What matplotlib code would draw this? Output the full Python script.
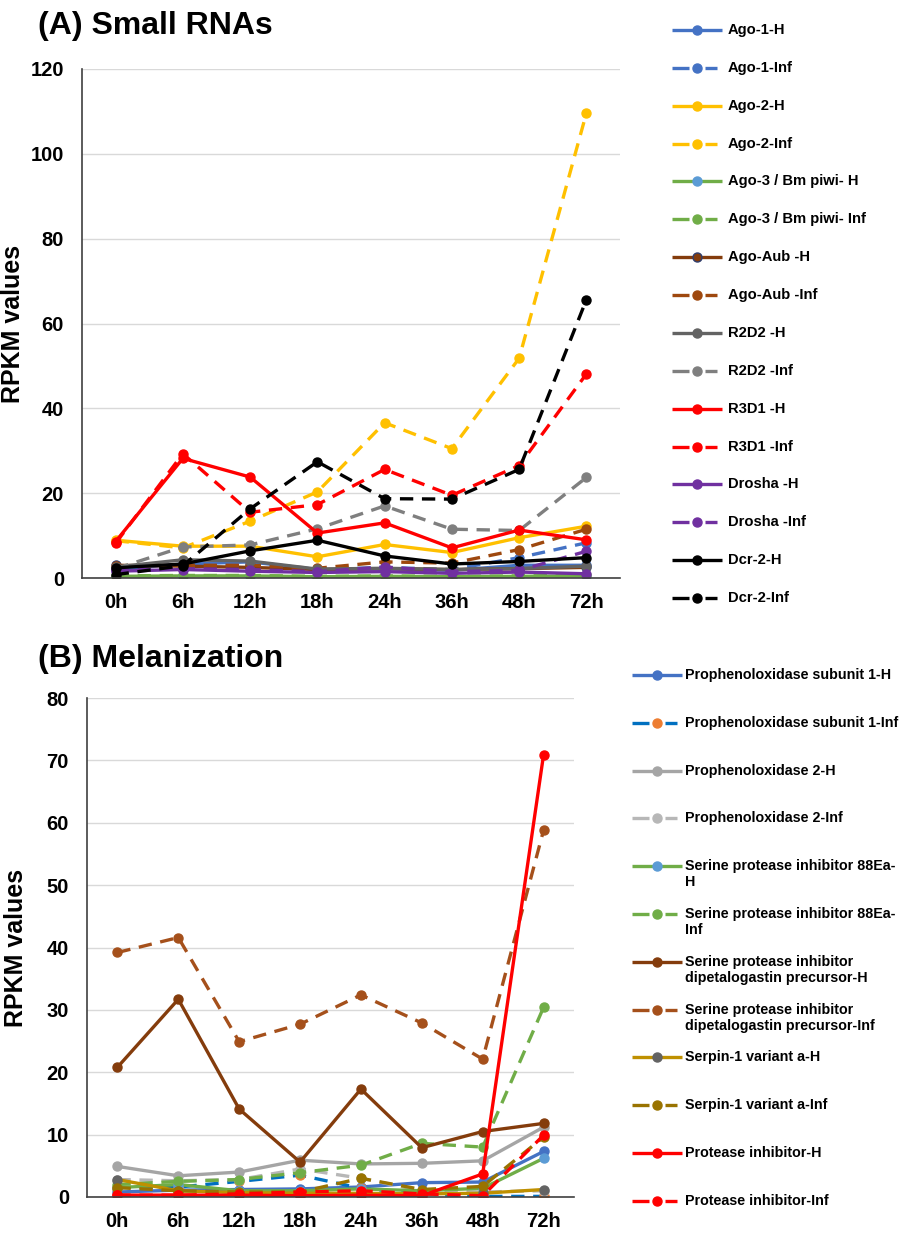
import matplotlib
matplotlib.use("Agg")
import matplotlib.pyplot as plt
from matplotlib.lines import Line2D

plt.rcParams['font.family'] = ['Liberation Sans', 'DejaVu Sans']
plt.rcParams['font.weight'] = 'bold'

timepoints = ["0h", "6h", "12h", "18h", "24h", "36h", "48h", "72h"]

# ---------------- Panel A: Small RNAs ----------------
labels_a = ["Ago-1-H", "Ago-1-Inf", "Ago-2-H", "Ago-2-Inf",
            "Ago-3 / Bm piwi- H", "Ago-3 / Bm piwi- Inf", "Ago-Aub -H", "Ago-Aub -Inf",
            "R2D2 -H", "R2D2 -Inf", "R3D1 -H", "R3D1 -Inf",
            "Drosha -H", "Drosha -Inf", "Dcr-2-H", "Dcr-2-Inf"]
ago1_h = [2.0, 3.3, 3.8, 2.0, 2.2, 1.8, 3.0, 3.0]
ago1_inf = [2.3, 3.0, 3.0, 2.0, 2.5, 2.0, 4.8, 8.3]
ago2_h = [8.9, 7.5, 7.5, 5.0, 7.9, 6.0, 9.5, 12.2]
ago2_inf = [8.8, 7.1, 13.4, 20.3, 36.6, 30.5, 51.8, 109.6]
ago3_h = [0.4, 0.5, 0.5, 0.3, 0.4, 0.3, 0.4, 0.5]
ago3_inf = [0.5, 0.6, 0.6, 0.4, 0.5, 0.4, 0.5, 0.6]
aub_h = [3.0, 2.8, 2.5, 2.0, 2.2, 2.0, 2.2, 2.5]
aub_inf = [2.8, 3.0, 3.0, 2.3, 3.8, 3.5, 6.7, 11.5]
r2d2_h = [2.6, 4.3, 4.0, 2.1, 2.3, 2.0, 2.2, 2.8]
r2d2_inf = [2.2, 7.3, 7.8, 11.6, 17.0, 11.5, 11.2, 23.7]
r3d1_h = [8.6, 28.2, 23.8, 10.6, 13.0, 7.1, 11.3, 9.0]
r3d1_inf = [8.2, 29.3, 15.5, 17.3, 25.6, 19.5, 26.5, 48.1]
drosha_h = [1.6, 2.0, 1.6, 1.3, 1.5, 1.1, 1.4, 1.0]
drosha_inf = [1.8, 2.2, 2.0, 1.5, 2.6, 1.5, 1.8, 6.3]
dcr2_h = [2.4, 3.3, 6.4, 8.9, 5.2, 3.3, 3.9, 4.8]
dcr2_inf = [0.8, 2.9, 16.3, 27.4, 18.7, 18.6, 25.6, 65.6]
values_a = [ago1_h, ago1_inf, ago2_h, ago2_inf, ago3_h, ago3_inf, aub_h, aub_inf,
            r2d2_h, r2d2_inf, r3d1_h, r3d1_inf, drosha_h, drosha_inf, dcr2_h, dcr2_inf]
# (line colour, marker face colour, marker edge colour, dashed)
styles_a = [("#4472C4", "#4472C4", "#4472C4", False), ("#4472C4", "#4472C4", "#4472C4", True),
            ("#FFC000", "#FFC000", "#FFC000", False), ("#FFC000", "#FFC000", "#FFC000", True),
            ("#70AD47", "#5B9BD5", "#5B9BD5", False), ("#70AD47", "#70AD47", "#70AD47", True),
            ("#843C0C", "#843C0C", "#2F3E6E", False), ("#9E480E", "#9E480E", "#9E480E", True),
            ("#636363", "#636363", "#636363", False), ("#7F7F7F", "#7F7F7F", "#7F7F7F", True),
            ("#FF0000", "#FF0000", "#FF0000", False), ("#FF0000", "#FF0000", "#FF0000", True),
            ("#7030A0", "#7030A0", "#7030A0", False), ("#7030A0", "#7030A0", "#7030A0", True),
            ("#000000", "#000000", "#000000", False), ("#000000", "#000000", "#000000", True)]
yticks_a = [0, 20, 40, 60, 80, 100, 120]

# ---------------- Panel B: Melanization ----------------
labels_b = ["Prophenoloxidase subunit 1-H", "Prophenoloxidase subunit 1-Inf",
            "Prophenoloxidase 2-H", "Prophenoloxidase 2-Inf",
            "Serine protease inhibitor 88Ea-\nH", "Serine protease inhibitor 88Ea-\nInf",
            "Serine protease inhibitor\ndipetalogastin precursor-H",
            "Serine protease inhibitor\ndipetalogastin precursor-Inf",
            "Serpin-1 variant a-H", "Serpin-1 variant a-Inf",
            "Protease inhibitor-H", "Protease inhibitor-Inf"]
ppo1_h = [0.8, 1.1, 1.2, 1.3, 1.6, 2.3, 2.4, 7.3]
ppo1_inf = [1.5, 1.6, 2.5, 3.5, 1.4, 0.5, 0.1, 0.1]
ppo2_h = [4.9, 3.4, 4.0, 5.9, 5.3, 5.4, 5.8, 11.2]
ppo2_inf = [2.8, 2.6, 2.8, 4.5, 3.0, 1.0, 0.8, 1.0]
ser88_h = [1.5, 2.0, 1.0, 1.0, 1.3, 1.0, 1.4, 6.2]
ser88_inf = [2.0, 2.5, 2.8, 3.9, 5.1, 8.6, 8.0, 30.4]
serdip_h = [20.8, 31.7, 14.1, 5.6, 17.3, 7.9, 10.5, 11.8]
serdip_inf = [39.2, 41.6, 24.9, 27.7, 32.4, 27.9, 22.1, 58.8]
serpin_h = [2.8, 1.0, 0.7, 0.6, 0.6, 0.5, 0.6, 1.2]
serpin_inf = [1.5, 1.0, 0.8, 0.8, 3.0, 1.2, 1.7, 9.6]
pi_h = [0.3, 0.3, 0.3, 0.2, 0.3, 0.2, 3.7, 70.9]
pi_inf = [0.3, 0.3, 0.5, 0.8, 1.0, 0.5, 0.2, 9.9]
values_b = [ppo1_h, ppo1_inf, ppo2_h, ppo2_inf, ser88_h, ser88_inf,
            serdip_h, serdip_inf, serpin_h, serpin_inf, pi_h, pi_inf]
styles_b = [("#4472C4", "#4472C4", "#4472C4", False), ("#0070C0", "#ED7D31", "#ED7D31", True),
            ("#A5A5A5", "#A5A5A5", "#A5A5A5", False), ("#B7B7B7", "#B7B7B7", "#B7B7B7", True),
            ("#70AD47", "#5B9BD5", "#5B9BD5", False), ("#70AD47", "#70AD47", "#70AD47", True),
            ("#843C0C", "#843C0C", "#843C0C", False), ("#A5501B", "#A5501B", "#A5501B", True),
            ("#BF9000", "#636363", "#636363", False), ("#997300", "#997300", "#997300", True),
            ("#FF0000", "#FF0000", "#FF0000", False), ("#FF0000", "#FF0000", "#FF0000", True)]
yticks_b = [0, 10, 20, 30, 40, 50, 60, 70, 80]

W, H = 906, 1235
fig = plt.figure(figsize=(W / 100, H / 100), dpi=100)

def fx(px):
    return px / W

def fy(py):
    return 1 - py / H

DASH = (0, (4, 2.6))
LW = 2.4
MS = 6.5

def draw_legend(styles, labels, x0, y0, step, fs, text_off):
    # Excel-like legend: evenly spaced entries, handle aligned with first text line
    for i, ((lc, mfc, mec, dashed), lab) in enumerate(zip(styles, labels)):
        y = y0 + step * i
        if dashed:
            segs = [(0, 17), (33, 45)]
        else:
            segs = [(0, 50)]
        for a, b in segs:
            fig.add_artist(Line2D([fx(x0 + a), fx(x0 + b)], [fy(y), fy(y)],
                                  transform=fig.transFigure, color=lc, lw=LW,
                                  solid_capstyle='butt'))
        fig.add_artist(Line2D([fx(x0 + 25)], [fy(y)], transform=fig.transFigure, ls='none',
                              marker='o', ms=MS, mfc=mfc, mec=mec, mew=1.0))
        for j, line in enumerate(lab.split("\n")):
            fig.text(fx(x0 + text_off), fy(y + 16 * j), line, fontsize=fs, fontweight='bold',
                     ha='left', va='center')

def draw_panel(box, title, title_y, values, labels, styles, yticks, ylabel_x):
    left, top, right, bottom = box
    ax = fig.add_axes([fx(left), fy(bottom), fx(right) - fx(left), fy(top) - fy(bottom)])
    x = list(range(len(timepoints)))
    for vals, lab, (lc, mfc, mec, dashed) in zip(values, labels, styles):
        ax.plot(x, vals, color=lc, lw=LW, ls=DASH if dashed else '-', marker='o', ms=MS,
                mfc=mfc, mec=mec, mew=1.0, label=lab, solid_capstyle='round',
                dash_capstyle='butt')
    ax.set_xlim(-0.5, len(timepoints) - 0.5)
    ax.set_ylim(yticks[0], yticks[-1])
    ax.set_yticks(yticks)
    ax.set_xticks(x)
    ax.set_xticklabels(timepoints)
    ax.tick_params(axis='y', length=0, labelsize=14.5, pad=13)
    ax.tick_params(axis='x', length=0, labelsize=14.5, pad=11)
    for t in ax.get_xticklabels() + ax.get_yticklabels():
        t.set_fontweight('bold')
    ax.grid(axis='y', color='#D9D9D9', lw=1.0)
    ax.set_axisbelow(True)
    for s in ['top', 'right']:
        ax.spines[s].set_visible(False)
    for s in ['left', 'bottom']:
        ax.spines[s].set_color('#404040')
        ax.spines[s].set_linewidth(1.2)
    ax.set_ylabel("RPKM values", fontsize=18, fontweight='bold')
    ax.yaxis.set_label_coords((ylabel_x - left) / (right - left), 0.5)
    fig.text(fx(38), fy(title_y), title, fontsize=23, fontweight='bold', ha='left', va='center')
    return ax

draw_panel((82, 69, 620, 578), "(A) Small RNAs", 26, values_a, labels_a, styles_a, yticks_a, 25)
draw_panel((87, 698, 574, 1197), "(B) Melanization", 659, values_b, labels_b, styles_b, yticks_b, 28)

draw_legend(styles_a, labels_a, 672, 30, 37.87, 10.6, 56)
draw_legend(styles_b, labels_b, 632, 675, 47.8, 10.3, 53)

fig.savefig("out.png", dpi=100)
